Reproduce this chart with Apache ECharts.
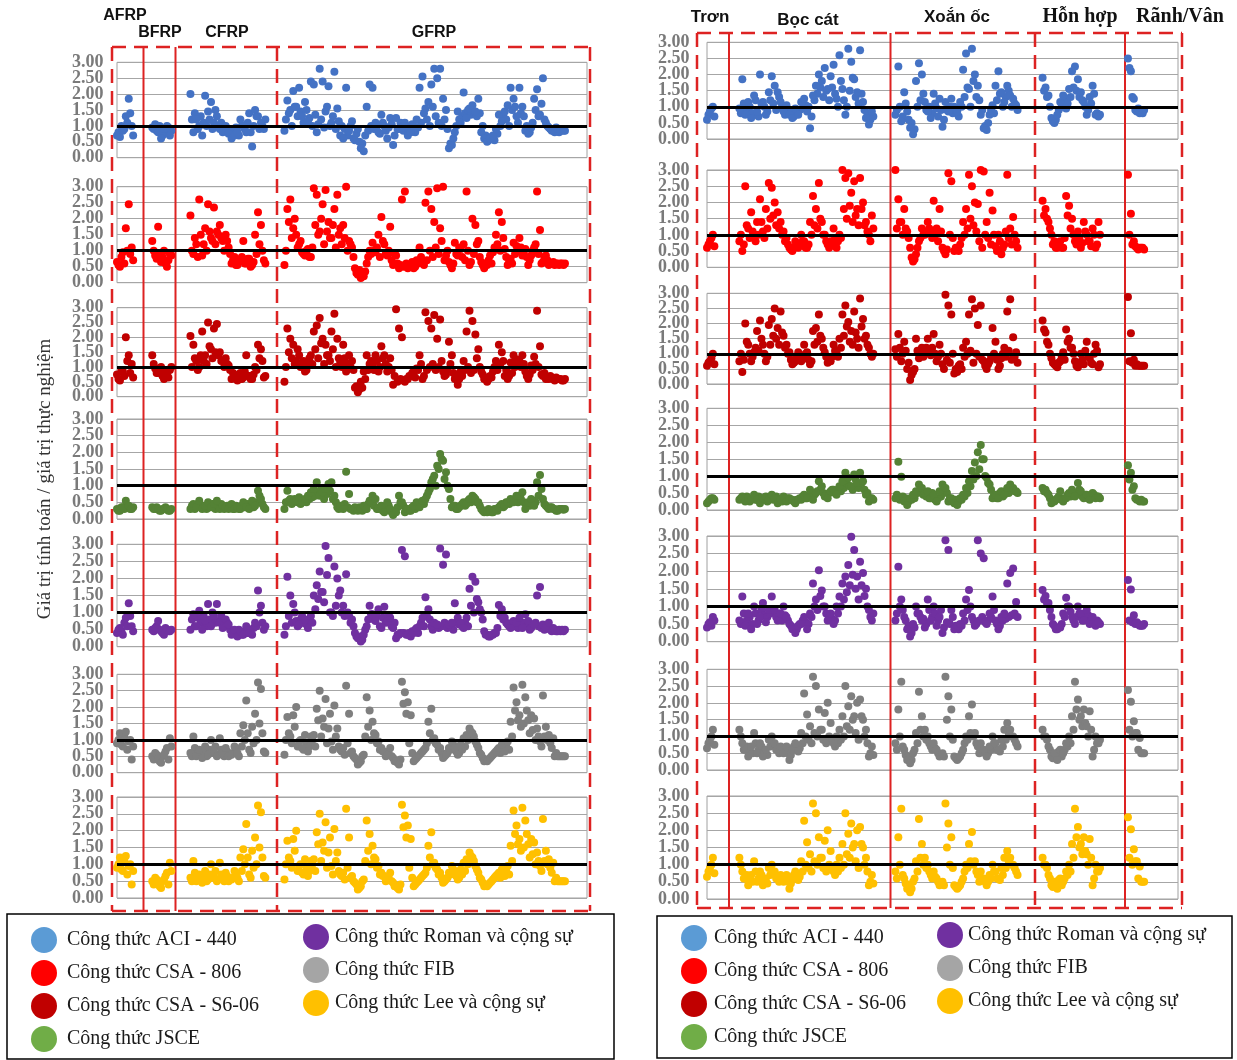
<!DOCTYPE html>
<html><head><meta charset="utf-8">
<script src="https://cdn.jsdelivr.net/npm/echarts@6/dist/echarts.min.js"></script>
<style>html,body{margin:0;padding:0;background:#fff}#c{width:1237px;height:1060px}</style>
</head><body><div id="c"></div>
<script>
// ---------- DATA ----------
const formulas = ['Công thức ACI - 440','Công thức CSA - 806','Công thức CSA - S6-06','Công thức JSCE','Công thức Roman và cộng sự','Công thức FIB','Công thức Lee và cộng sự'];
const yTicks = [0, 0.5, 1, 1.5, 2, 2.5, 3];
const refValue = 1;
const sampleRange = [0, 160];
const leftGroups = ['AFRP','BFRP','CFRP','GFRP'];
const leftStart = [0, 12, 25, 57];
const rightGroups = ['Trơn','Bọc cát','Xoắn ốc','Hỗn hợp','Rãnh/Vân'];
const rightStart = [0, 11, 64, 114, 143];

// Left panel (by FRP type): [AFRP, BFRP, CFRP, GFRP]; *_B = second specimen row read at half-step
const L_ACI = [
 [0.7,0.65,0.85,1.3,1.85,1.0],
 [0.95,1.05,0.8,0.6,0.9,1.0,0.7],
 [2.0,0.8,1.2,1.0,0.7,1.95,1.45,1.75,1.1,1.3,0.9,0.8,1.0,0.75,0.6,0.7,0.8,1.2,1.0,0.8,1.4,0.35,1.5,1.3,1.1,0.9],
 [0.85,1.8,1.5,2.1,1.6,2.2,1.3,1.75,1.15,2.4, 2.3,0.8,2.8,2.4,1.45,2.25,1.1,2.7,1.55,0.7, 0.6,2.2,0.85,1.15,0.55,0.9,0.3,0.2,1.6,2.3,
  2.2,1.1,0.8,1.35,1.0,0.6,1.25,0.4,1.25,0.9, 0.95,1.1,0.7,0.8,1.0,1.2,2.2,2.55,1.55,1.75, 2.3,2.8,2.5,2.8,1.85,1.5,0.3,0.4,0.8,1.45,
  1.1,2.05,1.25,1.55,1.65,1.45,1.85,0.8,0.6,0.5, 0.6,0.7,0.9,1.35,1.15,1.45,1.65,2.2,1.85,1.3, 2.2,1.6,0.85,0.75,0.95,1.85,2.15,1.35,2.5,1.1,0.95,0.85,0.8,0.9,0.85,0.85]
];
const L_ACI_B = [
 [0.8,1.0,0.9,1.1,1.4,0.7],
 [0.9,0.85,1.0,0.7,0.8,0.95,0.85],
 [1.2,1.4,0.9,1.3,1.1,1.0,1.2,0.9,1.5,1.0,1.1,0.95,0.85,0.9,0.85,0.95,0.7,1.0,0.9,1.1,0.8,1.0,1.3,0.9,1.0,1.2],
 [1.2,1.4,1.0,1.6,1.3,1.45,1.1,1.5,1.25,1.0, 1.35,1.05,1.2,0.95,1.6,1.0,1.3,0.9,1.15,1.0, 0.9,0.7,1.0,0.6,0.75,0.5,0.45,0.7,0.85,1.0,
  0.9,1.0,0.75,1.1,0.85,0.95,1.05,0.7,0.9,1.1, 0.85,1.0,0.9,1.05,0.8,0.95,1.1,1.4,1.2,1.0, 1.6,1.3,1.1,1.0,1.2,0.9,0.45,0.6,1.0,1.2,
  1.3,1.4,1.5,1.35,1.45,1.3,1.4,1.0,0.7,0.55, 0.65,0.55,0.75,1.0,1.3,1.2,1.0,1.5,1.6,1.1, 1.4,1.3,1.0,0.8,1.1,1.5,1.3,1.7,1.2,1.0,0.9,0.85,0.95,0.8,0.9,0.85]
];
const L_806 = [
 [0.65,0.5,0.95,1.7,2.45,1.1],
 [1.3,0.85,1.75,0.65,1.0,0.5,0.9],
 [2.1,0.9,1.2,2.6,0.85,1.7,2.45,1.4,2.35,1.6,1.8,1.3,1.5,1.1,0.6,0.8,0.55,0.7,1.3,0.6,0.75,0.55,1.5,2.2,1.8,0.7],
 [0.55,2.3,2.6,1.7,1.5,1.2,0.95,0.85,1.05,0.8, 2.95,2.75,1.6,2.45,2.9,1.9,1.4,2.3,2.75,1.7, 1.8,3.0,1.3,1.1,0.45,0.25,0.15,0.2,0.6,1.0,
  1.25,0.95,1.5,2.05,1.2,0.85,1.75,0.55,0.85,0.45, 2.6,2.85,0.45,0.55,0.45,0.7,1.1,0.65,2.5,2.85, 2.3,1.9,2.95,1.7,3.0,0.85,0.65,0.45,1.25,0.85,
  1.05,1.2,2.85,0.55,2.0,1.8,1.3,0.65,0.45,0.55, 0.85,0.95,1.5,2.2,1.9,1.05,0.55,0.75,1.25,1.15, 1.4,0.85,1.05,0.55,0.85,1.1,2.85,1.65,0.65,0.85,0.55,0.6,0.55,0.6,0.6,0.55]
];
const L_806_B = [
 [0.55,0.8,0.6,1.0,0.9,0.7],
 [1.0,0.75,0.9,0.8,0.6,0.7,0.85],
 [1.0,1.4,0.8,1.5,1.2,1.0,1.6,1.3,1.2,1.5,1.4,1.0,1.3,0.9,0.7,0.55,0.65,0.8,0.6,0.75,0.5,0.65,0.9,1.2,1.0,0.6],
 [1.0,1.9,1.4,2.0,1.1,1.3,0.9,1.0,0.8,1.1, 1.8,1.5,2.0,1.2,1.6,1.4,1.8,1.1,1.5,1.2, 1.4,1.0,1.2,0.8,0.3,0.4,0.2,0.35,0.8,0.9,
  1.0,1.1,0.8,1.3,0.9,1.0,0.7,0.9,0.6,0.55, 0.5,0.6,0.55,0.65,0.5,0.6,0.8,0.55,0.7,1.0, 0.8,1.1,0.9,1.3,0.7,1.0,0.55,0.6,0.9,1.1,
  0.8,0.7,1.0,0.65,0.9,1.2,0.8,0.55,0.6,0.7, 0.6,1.1,1.2,1.0,1.4,0.8,0.65,0.6,0.9,1.0, 1.1,1.0,0.8,0.7,1.0,1.2,0.9,0.6,0.8,0.7,0.6,0.65,0.6,0.55,0.6,0.6]
];
const L_S606 = [
 [0.75,0.55,0.85,2.0,1.4,1.1],
 [1.4,0.95,0.8,1.0,0.6,0.75,0.9],
 [2.05,1.75,1.2,1.0,2.2,1.4,2.5,1.6,2.3,2.45,1.5,1.2,1.3,1.05,0.6,0.7,0.55,0.8,0.65,1.4,0.7,0.6,1.0,1.75,1.6,0.65],
 [0.5,2.3,1.95,1.75,1.2,1.4,1.05,0.85,1.15,1.4, 2.2,2.4,2.65,1.95,1.75,1.4,2.2,2.8,1.95,1.15, 1.75,0.85,1.4,1.2,0.3,0.15,0.5,0.85,1.4,1.1,
  1.05,1.4,0.85,1.7,1.4,0.85,1.3,0.4,2.95,2.3, 2.0,0.5,0.6,0.7,0.85,0.95,1.4,0.6,2.85,2.55, 2.3,2.75,1.95,2.6,0.85,0.75,1.85,1.4,0.6,0.4,
  0.85,1.2,2.2,2.9,2.55,2.1,1.6,0.85,0.6,0.5, 0.7,0.85,1.2,1.75,1.5,0.7,0.6,1.15,1.4,1.25, 1.2,1.4,0.85,0.6,1.05,1.35,2.9,1.7,0.7,0.6,0.6,0.65,0.55,0.6,0.6,0.55]
];
const L_S606_B = [
 [0.6,0.9,0.7,1.2,0.8,0.65],
 [1.1,0.8,0.95,0.7,0.85,0.65,1.0],
 [1.0,1.3,0.9,1.4,1.2,1.1,1.7,1.3,1.5,1.4,1.2,1.0,1.1,0.9,0.8,0.65,0.75,0.6,0.85,0.7,0.6,0.75,0.9,1.3,1.2,0.7],
 [1.0,1.5,1.3,1.1,1.6,1.0,1.2,0.9,1.3,1.1, 1.6,1.3,1.8,1.1,1.4,1.2,1.6,1.0,1.3,1.0, 1.3,1.1,1.0,0.9,0.35,0.25,0.3,0.6,0.9,1.2,
  0.9,1.2,1.0,1.3,1.1,1.0,0.9,0.7,0.5,0.6, 0.55,0.6,0.7,0.8,0.65,0.9,1.1,0.7,0.9,1.0, 1.1,0.9,1.0,1.2,0.7,0.9,1.1,0.8,0.75,0.6,
  0.7,0.9,1.0,0.8,0.9,1.3,1.0,0.75,0.65,0.6, 0.65,1.0,0.9,1.1,1.2,0.9,0.7,0.8,1.0,1.1, 1.0,1.1,0.7,0.75,0.9,1.1,1.0,0.75,0.8,0.65,0.7,0.6,0.65,0.6,0.55,0.6]
];
const L_JSCE = [
 [0.3,0.25,0.35,0.55,0.4,0.3],
 [0.35,0.3,0.3,0.25,0.3,0.3,0.25],
 [0.3,0.45,0.35,0.55,0.3,0.4,0.5,0.35,0.45,0.55,0.3,0.4,0.35,0.3,0.45,0.3,0.35,0.3,0.5,0.35,0.3,0.55,0.4,0.85,0.6,0.35],
 [0.3,0.85,0.6,0.5,0.55,0.65,0.5,0.6,0.7,0.8, 0.9,1.1,0.7,0.8,0.9,1.05,1.1,0.7,0.35,0.4, 0.3,1.42,0.75,0.3,0.35,0.25,0.3,0.4,0.3,0.55,
  0.7,0.6,0.3,0.4,0.2,0.5,0.3,0.12,0.2,0.7, 0.5,0.2,0.3,0.25,0.4,0.5,0.35,0.55,0.6,0.8, 1.1,1.3,1.6,1.95,1.75,1.4,0.9,0.35,0.4,0.3,
  0.4,0.5,0.45,0.6,0.7,0.6,0.5,0.3,0.2,0.2, 0.25,0.2,0.3,0.35,0.45,0.4,0.5,0.6,0.5,0.7, 0.7,0.8,0.3,0.5,0.6,0.4,1.1,1.32,0.6,0.4,0.3,0.35,0.3,0.25,0.3,0.28]
];
const L_JSCE_B = [
 [0.25,0.35,0.3,0.4,0.3,0.35],
 [0.3,0.35,0.25,0.3,0.35,0.25,0.3],
 [0.4,0.3,0.45,0.35,0.4,0.3,0.35,0.45,0.3,0.4,0.45,0.3,0.4,0.35,0.3,0.4,0.3,0.4,0.35,0.45,0.4,0.35,0.5,0.7,0.45,0.3],
 [0.5,0.55,0.45,0.6,0.5,0.45,0.55,0.5,0.6,0.65, 0.7,0.8,0.9,0.6,0.75,0.85,0.6,0.5,0.3,0.35, 0.45,0.35,0.3,0.25,0.3,0.35,0.25,0.3,0.45,0.5,
  0.4,0.3,0.35,0.25,0.3,0.4,0.2,0.25,0.35,0.5, 0.4,0.3,0.25,0.35,0.3,0.45,0.5,0.45,0.7,0.9, 1.2,1.0,1.5,1.8,1.2,1.0,0.6,0.4,0.3,0.35,
  0.45,0.4,0.55,0.5,0.65,0.5,0.4,0.25,0.25,0.3, 0.2,0.3,0.25,0.4,0.35,0.5,0.45,0.55,0.6,0.5, 0.6,0.5,0.45,0.4,0.55,0.5,0.7,0.9,0.45,0.35,0.35,0.3,0.25,0.3,0.3,0.3]
];
const L_ROMAN = [
 [0.4,0.55,0.35,0.85,1.27,0.6],
 [0.5,0.55,0.75,0.45,0.35,0.5,0.45],
 [0.5,0.95,0.6,1.05,0.5,0.75,1.25,0.6,0.9,1.25,0.7,0.55,0.8,0.65,0.35,0.5,0.3,0.45,0.35,0.6,0.4,0.35,0.7,1.65,1.2,0.5],
 [0.35,2.05,1.5,1.25,0.75,0.65,0.9,0.8,0.55,0.9, 1.5,1.8,2.2,1.6,2.95,2.6,1.0,2.35,2.0,1.65, 1.2,2.12,0.9,0.8,0.4,0.25,0.15,0.35,0.6,1.2,
  0.95,0.75,1.1,0.55,1.17,0.75,0.85,0.55,0.25,0.35, 2.83,2.65,0.35,0.3,0.4,0.55,0.6,0.85,1.45,1.1, 0.6,0.7,0.65,2.88,2.4,2.7,0.65,0.7,1.27,0.85,
  0.7,0.55,0.85,1.7,2.05,1.9,1.3,1.0,0.45,0.35, 0.3,0.35,0.4,1.22,1.1,0.85,0.65,0.55,0.75,0.7, 0.85,0.55,0.95,0.75,0.55,0.65,1.5,1.75,0.65,0.55,0.7,0.45,0.5,0.45,0.45,0.45]
];
const L_ROMAN_B = [
 [0.5,0.45,0.7,0.6,0.9,0.45],
 [0.45,0.6,0.5,0.4,0.55,0.45,0.5],
 [0.8,0.6,0.85,0.7,0.9,0.6,0.8,1.0,0.7,0.75,0.9,0.6,0.7,0.5,0.45,0.4,0.5,0.35,0.45,0.4,0.5,0.55,0.6,1.0,0.7,0.6],
 [0.6,0.9,0.7,1.0,0.6,0.8,0.7,0.65,0.8,0.7, 1.1,1.4,1.6,1.3,2.1,1.0,0.9,1.2,1.5,1.0, 0.9,1.0,0.7,0.6,0.3,0.3,0.2,0.5,0.8,0.95,
  0.8,0.9,0.6,0.85,0.7,0.9,0.6,0.7,0.35,0.4, 0.4,0.35,0.4,0.45,0.5,0.4,0.7,0.6,0.9,0.8, 0.5,0.65,0.55,0.6,0.7,0.55,0.6,0.5,0.7,0.65,
  0.6,0.7,0.6,1.2,1.0,1.4,1.1,0.8,0.35,0.3, 0.35,0.4,0.55,0.9,0.8,0.7,0.6,0.7,0.6,0.55, 0.65,0.7,0.6,0.5,0.65,0.7,0.6,0.55,0.5,0.6,0.5,0.55,0.45,0.5,0.5,0.5]
];
const L_FIB = [
 [0.9,1.2,0.8,1.25,0.95,0.4],
 [0.5,0.6,0.45,0.3,0.55,0.75,1.05],
 [0.6,1.1,0.5,0.7,0.45,0.8,0.55,1.0,0.65,0.5,1.05,0.6,0.75,0.5,0.55,0.8,0.6,1.2,1.45,2.2,0.7,1.4,1.8,2.75,2.55,0.65],
 [0.55,1.7,1.1,1.75,2.0,0.95,0.75,1.15,0.65,1.1, 1.15,1.95,2.5,1.65,2.25,1.35,0.95,2.05,1.35,0.7, 0.75,2.65,1.8,0.65,0.45,0.25,0.35,0.55,2.3,1.9,
  1.55,1.15,0.95,0.75,0.65,0.55,0.75,0.45,0.35,0.25, 2.77,2.45,2.15,1.75,0.35,0.45,0.55,0.65,0.75,1.55, 1.95,1.05,0.85,0.75,0.45,0.55,0.75,0.95,0.75,0.55,
  0.85,1.05,1.15,1.35,1.2,0.95,0.75,0.55,0.35,0.35, 0.45,0.55,0.65,0.75,0.85,0.65,0.95,1.55,2.6,2.15, 1.75,2.68,2.3,1.6,1.75,1.65,1.35,0.95,2.35,1.4,1.15,0.75,0.5,0.5,0.5,0.5]
];
const L_FIB_B = [
 [1.0,0.85,1.1,0.7,1.0,0.8],
 [0.4,0.55,0.35,0.5,0.65,0.4,0.8],
 [0.5,0.75,0.6,0.55,0.65,0.5,0.7,0.6,0.8,0.55,0.7,0.5,0.65,0.55,0.6,0.7,0.5,0.8,1.0,1.2,0.6,0.9,1.0,1.5,1.2,0.6],
 [1.0,1.2,0.9,1.4,0.8,1.0,0.7,0.9,0.8,1.0, 0.8,1.6,1.1,1.4,0.9,1.8,0.7,1.1,0.8,0.65, 0.55,0.9,0.6,0.5,0.4,0.3,0.5,1.1,1.4,1.0,
  1.2,0.9,0.7,0.65,0.5,0.6,0.5,0.35,0.3,0.4, 2.1,1.8,0.9,0.6,0.4,0.5,0.6,0.7,0.9,1.2, 1.0,0.9,0.7,0.6,0.5,0.6,0.7,0.85,0.65,0.6,
  0.7,0.8,1.0,1.25,1.1,0.85,0.6,0.45,0.4,0.4, 0.5,0.6,0.7,0.6,0.75,0.8,0.7,1.1,1.9,1.6, 1.4,1.5,1.9,1.2,1.3,1.0,1.1,0.8,1.1,1.0,0.9,1.05,0.6,0.5,0.5,0.5]
];
const L_LEE = [
 [0.9,1.2,0.8,1.25,0.95,0.4],
 [0.5,0.6,0.45,0.3,0.55,0.75,1.05],
 [0.6,1.1,0.5,0.7,0.45,0.8,0.55,1.0,0.65,0.5,1.05,0.6,0.75,0.5,0.55,0.8,0.6,1.2,1.45,2.2,0.7,1.4,1.8,2.75,2.55,0.65],
 [0.55,1.7,1.1,1.75,2.0,0.95,0.75,1.15,0.65,1.1, 1.15,1.95,2.5,1.65,2.25,1.35,0.95,2.05,1.35,0.7, 0.75,2.65,1.8,0.65,0.45,0.25,0.35,0.55,2.3,1.9,
  1.55,1.15,0.95,0.75,0.65,0.55,0.75,0.45,0.35,0.25, 2.77,2.45,2.15,1.75,0.35,0.45,0.55,0.65,0.75,1.55, 1.95,1.05,0.85,0.75,0.45,0.55,0.75,0.95,0.75,0.55,
  0.85,1.05,1.15,1.35,1.2,0.95,0.75,0.55,0.35,0.35, 0.45,0.55,0.65,0.75,0.85,0.65,0.95,1.55,2.6,2.15, 1.75,2.68,2.3,1.6,1.75,1.65,1.35,0.95,2.35,1.4,1.15,0.75,0.5,0.5,0.5,0.5]
];
const L_LEE_B = [
 [1.0,0.85,1.1,0.7,1.0,0.8],
 [0.4,0.55,0.35,0.5,0.65,0.4,0.8],
 [0.5,0.75,0.6,0.55,0.65,0.5,0.7,0.6,0.8,0.55,0.7,0.5,0.65,0.55,0.6,0.7,0.5,0.8,1.0,1.2,0.6,0.9,1.0,1.5,1.2,0.6],
 [1.0,1.2,0.9,1.4,0.8,1.0,0.7,0.9,0.8,1.0, 0.8,1.6,1.1,1.4,0.9,1.8,0.7,1.1,0.8,0.65, 0.55,0.9,0.6,0.5,0.4,0.3,0.5,1.1,1.4,1.0,
  1.2,0.9,0.7,0.65,0.5,0.6,0.5,0.35,0.3,0.4, 2.1,1.8,0.9,0.6,0.4,0.5,0.6,0.7,0.9,1.2, 1.0,0.9,0.7,0.6,0.5,0.6,0.7,0.85,0.65,0.6,
  0.7,0.8,1.0,1.25,1.1,0.85,0.6,0.45,0.4,0.4, 0.5,0.6,0.7,0.6,0.75,0.8,0.7,1.1,1.9,1.6, 1.4,1.5,1.9,1.2,1.3,1.0,1.1,0.8,1.1,1.0,0.9,1.05,0.6,0.5,0.5,0.5]
];

// Right panel (by surface type): [Trơn, Bọc cát, Xoắn ốc, Hỗn hợp, Rãnh/Vân]
const R_ACI = [
 [0.6,0.85,1.0],
 [0.95,1.85,0.75,1.15,0.65,1.35,0.85,2.0,1.15,0.75,1.45, 1.95,1.65,1.45,1.15,0.85,1.05,0.75,0.65,0.95,0.75, 1.15,1.25,0.85,0.33,1.35,1.65,2.0,1.8,2.2,1.55,
  1.95,2.3,1.25,2.6,1.55,0.75,2.8,2.4,1.85,1.45, 2.75,1.15,0.65,0.45,0.85],
 [0.75,2.25,0.55,1.45,0.85,0.35,0.15,1.8,2.35,2.0,1.15, 0.85,0.65,1.4,0.95,1.25,0.38,1.15,0.85,1.25,1.0, 0.85,1.15,2.15,2.65,1.55,2.8,2.0,1.65,0.75,0.33,
  0.28,0.75,1.05,1.65,2.1,1.45,1.15,1.65,1.35,1.25,1.05],
 [1.9,1.6,1.35,0.65,0.5,0.75,1.15,1.35,0.95,1.55,2.1,2.25,1.85,1.45,1.15,0.75,1.3,1.65,0.75,0.7],
 [2.5,2.1,1.25,0.85,0.8,0.8]
];
const R_ACI_B = [
 [0.75,0.95,0.7],
 [0.8,1.1,0.9,1.0,0.8,1.2,0.7,1.1,1.0,0.85,1.2, 1.1,0.9,1.3,1.0,0.75,0.9,0.85,0.7,0.8,0.9, 0.95,1.05,1.0,0.7,1.2,1.4,1.6,1.3,1.5,1.2,
  1.6,1.4,1.0,1.8,1.2,1.0,1.5,1.9,1.3,1.1, 1.4,0.9,0.8,0.6,0.7],
 [0.9,1.0,0.7,1.1,0.6,0.5,0.3,1.0,1.2,1.4,0.9, 1.0,0.8,1.1,0.7,0.9,0.6,0.9,1.0,0.8,0.9, 0.7,1.0,1.3,1.6,1.0,1.8,1.3,1.2,0.9,0.4,
  0.5,0.9,0.8,1.2,1.4,1.0,1.3,1.5,1.0,1.1,0.9],
 [1.5,1.3,1.0,0.55,0.6,0.9,1.0,1.2,1.1,1.3,1.6,1.5,1.3,1.2,1.0,0.9,1.1,1.4,0.8,0.75],
 [2.2,1.3,0.9,0.95,0.85,0.9]
];
const R_806 = [
 [0.6,0.8,1.0],
 [0.8,0.5,2.5,1.2,1.7,1.0,1.4,2.1,1.1,1.8,2.6, 2.45,2.0,1.7,1.4,1.1,0.9,0.6,0.5,0.8,0.6, 1.0,0.8,0.6,1.4,2.2,1.8,2.6,1.4,1.0,0.7,
  0.8,1.2,0.6,1.0,3.0,2.75,2.9,2.3,2.65,1.8, 2.75,2.0,1.4,1.0,1.6],
 [3.0,2.1,1.4,1.8,1.1,0.6,0.18,0.4,0.8,1.2,1.0, 1.4,1.1,2.05,1.2,1.8,0.6,0.4,2.9,2.65,0.5, 0.6,0.7,1.4,1.8,2.85,2.5,2.0,1.95,3.0,2.95,
  1.4,2.3,1.75,0.65,1.0,0.4,0.7,2.85,1.2,1.55,0.8],
 [2.05,1.8,1.4,1.0,0.8,0.6,0.8,0.6,2.2,1.9,1.5,0.8,1.1,0.6,1.4,1.0,0.8,1.2,0.6,1.4],
 [2.85,1.65,0.8,0.6,0.6,0.6]
];
const R_806_B = [
 [0.7,0.9,0.65],
 [1.0,0.7,1.3,0.9,1.1,0.8,1.0,1.4,0.9,1.2,1.5, 1.6,1.3,1.2,1.0,0.8,0.7,0.55,0.6,0.65,0.7, 0.8,0.6,0.7,1.0,1.3,1.2,1.5,1.0,0.8,0.6,
  0.7,0.9,0.8,0.9,1.8,1.5,1.9,1.4,1.6,1.3, 1.8,1.3,1.1,0.8,1.2],
 [1.2,1.4,1.0,1.2,0.9,0.3,0.25,0.6,0.9,1.0,1.1, 1.2,0.9,1.0,0.8,1.1,0.5,0.55,1.0,0.9,0.6, 0.5,0.9,1.0,1.2,1.5,1.3,1.1,0.8,0.6,1.0,
  0.9,0.7,1.0,0.5,0.8,0.6,1.1,0.9,0.7,1.0,0.6],
 [1.6,1.5,1.2,0.7,0.6,0.7,0.6,0.9,1.6,1.2,1.0,0.7,0.9,0.75,1.1,0.8,0.65,1.0,0.7,1.0],
 [1.0,0.7,0.65,0.55,0.6,0.55]
];
const R_S606 = [
 [0.6,0.75,1.0],
 [0.75,0.4,2.0,1.3,0.75,1.05,1.75,2.1,1.3,0.75,1.95, 2.15,2.5,1.85,2.4,1.6,1.3,1.05,0.65,0.75,1.05, 0.75,1.3,1.05,0.65,1.75,1.85,2.3,1.5,1.05,0.7,
  0.75,1.3,1.05,1.5,2.3,2.6,2.05,1.75,2.4,1.5, 2.83,2.15,1.6,1.2,0.9],
 [1.15,1.65,0.75,1.4,0.5,0.13,0.4,1.5,0.85,1.2,1.0, 1.5,0.95,1.65,0.75,1.3,0.65,2.95,2.6,2.3,0.35, 0.4,0.65,1.2,1.4,2.3,2.8,2.5,1.95,2.6,0.75,
  0.5,0.75,1.85,1.4,0.5,0.85,1.2,2.4,2.8,1.55,1.05],
 [2.1,1.7,1.3,0.85,0.65,0.55,0.75,1.05,1.8,1.5,1.2,0.75,0.55,1.0,0.65,1.4,0.85,0.65,1.3,0.55],
 [2.88,1.68,0.8,0.65,0.6,0.6]
];
const R_S606_B = [
 [0.7,0.85,0.65],
 [1.0,0.8,1.4,1.0,0.9,1.2,1.1,1.5,1.0,0.9,1.3, 1.6,1.5,1.3,1.7,1.2,1.0,0.8,0.7,0.9,0.8, 0.9,1.0,0.8,0.75,1.3,1.4,1.6,1.2,0.9,0.8,
  0.9,1.1,0.9,1.2,1.6,1.9,1.4,1.3,1.7,1.2, 1.9,1.5,1.3,1.0,1.0],
 [0.9,1.2,1.0,1.1,0.7,0.3,0.5,1.1,1.0,0.9,1.2, 1.1,1.2,1.0,0.9,1.0,0.5,0.8,0.7,1.0,0.5, 0.6,0.5,0.9,1.0,1.1,0.7,1.0,0.9,0.8,0.6,
  0.65,0.9,1.0,0.8,0.6,1.0,0.9,1.1,0.8,0.9,0.7],
 [1.8,1.4,1.0,0.7,0.6,0.7,0.9,0.8,1.4,1.2,1.0,0.6,0.7,0.8,1.1,0.9,0.7,1.0,1.1,0.65],
 [0.75,0.7,0.6,0.6,0.6,0.6]
];
const R_JSCE = [
 [0.2,0.3,0.35],
 [0.3,0.4,0.25,0.35,0.3,0.45,0.3,0.2,0.35,0.4,0.3, 0.45,0.35,0.2,0.3,0.4,0.25,0.35,0.3,0.2,0.3, 0.3,0.45,0.35,0.6,0.3,0.5,0.85,0.7,0.4,0.35,
  0.55,0.6,0.45,0.7,0.85,1.1,0.95,0.7,1.05,0.8, 1.1,0.85,0.45,0.25,0.35],
 [0.35,1.42,0.98,0.25,0.15,0.35,0.45,0.55,0.75,0.65,0.5, 0.55,0.35,0.45,0.25,0.55,0.75,0.65,0.25,0.35,0.2, 0.15,0.35,0.45,0.65,0.85,1.15,1.4,1.7,1.92,1.5,
  0.95,0.75,0.35,0.45,0.35,0.55,0.45,0.65,0.75,0.65,0.55],
 [0.65,0.6,0.45,0.2,0.25,0.35,0.55,0.25,0.35,0.5,0.6,0.4,0.8,0.55,0.35,0.45,0.3,0.5,0.35,0.4],
 [1.32,1.1,0.7,0.3,0.25,0.25]
];
const R_JSCE_B = [
 [0.25,0.35,0.3],
 [0.35,0.3,0.4,0.25,0.35,0.3,0.4,0.35,0.3,0.25,0.35, 0.3,0.4,0.3,0.25,0.3,0.35,0.3,0.25,0.3,0.35, 0.4,0.35,0.4,0.5,0.45,0.55,0.6,0.5,0.45,0.5,
  0.6,0.5,0.6,0.55,0.65,0.8,0.7,0.6,0.9,0.65, 0.8,0.6,0.5,0.35,0.3],
 [0.45,0.3,0.4,0.35,0.25,0.3,0.35,0.5,0.6,0.45,0.4, 0.35,0.5,0.3,0.35,0.4,0.6,0.5,0.35,0.25,0.3, 0.25,0.3,0.4,0.5,0.7,0.9,1.0,1.2,1.5,1.0,
  0.8,0.6,0.45,0.35,0.5,0.4,0.55,0.5,0.6,0.55,0.5],
 [0.55,0.5,0.35,0.25,0.3,0.4,0.3,0.35,0.45,0.4,0.5,0.45,0.6,0.4,0.45,0.35,0.4,0.45,0.4,0.35],
 [0.9,0.6,0.35,0.3,0.3,0.25]
];
const R_ROMAN = [
 [0.4,0.55,0.7],
 [0.6,1.28,0.45,0.8,0.35,1.0,0.5,0.7,1.1,0.55,0.9, 1.28,0.9,0.6,0.8,1.0,0.7,0.5,0.35,0.25,0.45, 0.5,0.7,0.35,0.8,1.65,1.2,2.03,1.45,1.0,0.6,
  0.8,0.5,1.0,1.28,1.65,1.85,2.18,2.98,2.6,1.85, 2.27,1.95,1.5,0.9,0.6],
 [0.6,2.13,1.2,0.7,0.35,0.15,0.5,1.0,0.8,0.6,0.4, 1.2,0.6,1.0,0.45,0.7,0.25,2.88,2.6,0.9,0.35, 0.45,0.5,0.8,1.2,1.47,0.7,0.45,2.88,2.5,2.37,
  0.5,0.8,1.28,0.6,0.35,0.7,0.8,1.65,1.95,2.08,1.13],
 [1.47,1.3,1.1,0.7,0.45,0.35,0.4,0.8,1.25,1.0,0.7,0.5,1.0,0.8,0.6,0.9,0.5,0.7,0.45,0.55],
 [1.75,1.48,0.75,0.55,0.45,0.45]
];
const R_ROMAN_B = [
 [0.5,0.45,0.6],
 [0.5,0.8,0.6,0.7,0.5,0.8,0.6,0.9,0.75,0.7,0.8, 0.9,0.7,0.8,0.6,0.75,0.6,0.45,0.4,0.35,0.5, 0.6,0.55,0.5,0.7,1.0,0.9,1.3,1.0,0.8,0.7,
  0.65,0.6,0.8,1.0,1.2,1.4,1.6,1.9,1.5,1.2, 1.6,1.3,1.0,0.7,0.8],
 [0.8,1.0,0.9,0.6,0.45,0.25,0.4,0.8,0.7,0.65,0.5, 0.9,0.7,0.8,0.6,0.9,0.4,0.55,0.5,0.7,0.45, 0.35,0.45,0.6,0.9,1.0,0.6,0.5,0.6,0.7,0.55,
  0.6,0.7,0.9,0.5,0.45,0.6,0.65,0.7,0.75,0.8,0.7],
 [1.2,1.1,0.9,0.5,0.35,0.4,0.5,0.7,1.0,0.85,0.6,0.7,0.8,0.6,0.7,0.75,0.6,0.55,0.6,0.5],
 [0.6,0.55,0.5,0.5,0.45,0.5]
];
const R_FIB = [
 [0.65,0.9,1.2],
 [1.2,0.8,0.6,0.4,0.7,1.1,0.5,0.8,0.4,0.6,0.9, 1.0,0.8,0.6,0.7,0.5,0.7,0.3,0.6,0.8,0.55, 1.1,2.28,1.65,1.3,2.78,2.5,1.8,1.2,1.7,2.0,
  1.4,0.8,1.0,1.2,1.6,2.5,1.9,2.2,1.6,2.0, 2.1,1.5,1.2,0.4,0.7],
 [0.8,1.8,2.63,0.6,0.3,0.2,0.5,1.1,2.33,1.6,1.2, 1.0,0.7,0.8,0.6,0.4,0.5,2.78,2.2,1.8,0.4, 0.3,0.4,0.6,1.0,1.6,1.95,1.1,0.7,0.8,0.6,
  0.4,0.7,1.0,0.8,0.6,0.9,1.2,1.4,1.2,1.0,0.8],
 [1.2,1.0,0.7,0.4,0.5,0.3,0.6,0.5,0.8,1.0,1.6,2.63,2.1,1.6,1.8,1.3,1.75,0.4,1.0,0.8],
 [2.38,2.03,1.45,1.1,0.95,0.5]
];
const R_FIB_B = [
 [0.8,1.0,0.75],
 [1.0,0.6,0.7,0.55,0.5,0.8,0.6,0.7,0.55,0.45,0.7, 0.8,0.6,0.5,0.55,0.65,0.5,0.45,0.7,0.6,0.65, 0.8,1.0,0.9,0.8,1.1,1.0,1.2,0.9,0.8,1.0,
  0.9,0.7,0.8,0.9,1.0,1.3,1.2,1.5,1.1,0.9, 1.6,1.0,0.8,0.5,0.45],
 [0.6,1.0,0.7,0.45,0.4,0.3,0.6,0.8,1.2,1.0,0.9, 0.8,0.6,0.65,0.5,0.45,0.4,1.5,1.0,0.9,0.35, 0.35,0.5,0.8,0.9,1.1,1.0,0.8,0.5,0.6,0.5,
  0.5,0.6,0.8,0.6,0.55,0.7,0.9,1.1,1.0,0.9,0.7],
 [1.0,0.9,0.6,0.35,0.4,0.55,0.4,0.6,0.7,0.8,1.2,1.8,1.5,1.3,1.4,1.0,1.2,0.6,0.8,0.9],
 [1.2,1.0,1.1,0.6,0.5,0.5]
];
const R_LEE = [
 [0.65,0.9,1.2],
 [1.2,0.8,0.6,0.4,0.7,1.1,0.5,0.8,0.4,0.6,0.9, 1.0,0.8,0.6,0.7,0.5,0.7,0.3,0.6,0.8,0.55, 1.1,2.28,1.65,1.3,2.78,2.5,1.8,1.2,1.7,2.0,
  1.4,0.8,1.0,1.2,1.6,2.5,1.9,2.2,1.6,2.0, 2.1,1.5,1.2,0.4,0.7],
 [0.8,1.8,2.63,0.6,0.3,0.2,0.5,1.1,2.33,1.6,1.2, 1.0,0.7,0.8,0.6,0.4,0.5,2.78,2.2,1.8,0.4, 0.3,0.4,0.6,1.0,1.6,1.95,1.1,0.7,0.8,0.6,
  0.4,0.7,1.0,0.8,0.6,0.9,1.2,1.4,1.2,1.0,0.8],
 [1.2,1.0,0.7,0.4,0.5,0.3,0.6,0.5,0.8,1.0,1.6,2.63,2.1,1.6,1.8,1.3,1.75,0.4,1.0,0.8],
 [2.38,2.03,1.45,1.1,0.95,0.5]
];
const R_LEE_B = [
 [0.8,1.0,0.75],
 [1.0,0.6,0.7,0.55,0.5,0.8,0.6,0.7,0.55,0.45,0.7, 0.8,0.6,0.5,0.55,0.65,0.5,0.45,0.7,0.6,0.65, 0.8,1.0,0.9,0.8,1.1,1.0,1.2,0.9,0.8,1.0,
  0.9,0.7,0.8,0.9,1.0,1.3,1.2,1.5,1.1,0.9, 1.6,1.0,0.8,0.5,0.45],
 [0.6,1.0,0.7,0.45,0.4,0.3,0.6,0.8,1.2,1.0,0.9, 0.8,0.6,0.65,0.5,0.45,0.4,1.5,1.0,0.9,0.35, 0.35,0.5,0.8,0.9,1.1,1.0,0.8,0.5,0.6,0.5,
  0.5,0.6,0.8,0.6,0.55,0.7,0.9,1.1,1.0,0.9,0.7],
 [1.0,0.9,0.6,0.35,0.4,0.55,0.4,0.6,0.7,0.8,1.2,1.8,1.5,1.3,1.4,1.0,1.2,0.6,0.8,0.9],
 [1.2,1.0,1.1,0.6,0.5,0.5]
];

const leftData = [L_ACI, L_806, L_S606, L_JSCE, L_ROMAN, L_FIB, L_LEE];
const leftDataB = [L_ACI_B, L_806_B, L_S606_B, L_JSCE_B, L_ROMAN_B, L_FIB_B, L_LEE_B];
const rightData = [R_ACI, R_806, R_S606, R_JSCE, R_ROMAN, R_FIB, R_LEE];
const rightDataB = [R_ACI_B, R_806_B, R_S606_B, R_JSCE_B, R_ROMAN_B, R_FIB_B, R_LEE_B];

// ---------- STYLE / LAYOUT ----------
const seriesColors = ['#4472C4','#FF0000','#C00000','#548235','#7030A0','#7F7F7F','#FFC000'];
const legendColors = ['#5B9BD5','#FF0000','#C00000','#70AD47','#7030A0','#A5A5A5','#FFC000'];
const panels = [
  {data: leftData, dataB: leftDataB, starts: leftStart, left: 117, width: 470, margin: 13,
   tops: [62.3,186.7,307.7,419,544.3,674.3,797], bots: [157.7,282.7,396.7,519,646.7,772.7,898]},
  {data: rightData, dataB: rightDataB, starts: rightStart, left: 707, width: 471, margin: 17,
   tops: [42.3,170,293.3,408.3,536,669.3,796], bots: [139,267.3,384,510,641.7,770,899]}
];

function toPoints(groups, starts, off) {
  const pts = [];
  groups.forEach((g, gi) => g.forEach((v, i) => pts.push([starts[gi] + i + off, v])));
  return pts;
}

const grid = [], xAxis = [], yAxis = [], series = [];
panels.forEach((p) => {
  p.data.forEach((groups, k) => {
    const idx = grid.length;
    grid.push({left: p.left, width: p.width, top: p.tops[k], height: p.bots[k] - p.tops[k],
      show: true, borderColor: '#a0a0a0', borderWidth: 1, backgroundColor: 'transparent'});
    xAxis.push({gridIndex: idx, type: 'value', min: sampleRange[0], max: sampleRange[1], show: false});
    yAxis.push({gridIndex: idx, type: 'value', min: yTicks[0], max: yTicks[yTicks.length - 1],
      interval: yTicks[1] - yTicks[0],
      axisLine: {show: false}, axisTick: {show: false}, axisLabel: {show: false},
      splitLine: {show: true, lineStyle: {color: '#a6a6a6', width: 1}}});
    const pts = toPoints(p.dataB[k], p.starts, 0.5).concat(toPoints(groups, p.starts, 0));
    series.push({type: 'scatter', name: formulas[k], xAxisIndex: idx, yAxisIndex: idx,
      data: pts, symbolSize: 8, clip: false, silent: true,
      itemStyle: {color: seriesColors[k], opacity: 1},
      markLine: {silent: true, symbol: 'none', label: {show: false}, animation: false,
        lineStyle: {color: '#000', width: 3, type: 'solid'}, data: [{yAxis: refValue}]}});
    series.push({type: 'scatter', name: 'ticks', xAxisIndex: idx, yAxisIndex: idx,
      data: yTicks.map(v => [sampleRange[0], v]), symbolSize: 1, clip: false, silent: true,
      itemStyle: {color: 'rgba(0,0,0,0)'},
      label: {show: true, position: 'left', distance: p.margin, formatter: d => d.value[1].toFixed(2),
        fontFamily: 'Liberation Serif', fontWeight: 'bold', fontSize: 18, color: '#595959'},
      labelLayout: {hideOverlap: false}});
  });
});

const legendText = {fontFamily: 'Liberation Serif', fontSize: 20, color: '#1a1a1a'};
function legendBlock(names, colorsIdx, left, top, pad) {
  return {left, top, padding: 0, orient: 'vertical', icon: 'circle', itemWidth: 26, itemHeight: 26, itemGap: 7,
    height: 140, selectedMode: false, textStyle: Object.assign({padding: [0, 0, 0, pad]}, legendText),
    data: names.map((n, i) => ({name: n, itemStyle: {color: legendColors[colorsIdx[i]]}}))};
}
const legend = [
  legendBlock(formulas.slice(0, 4), [0,1,2,3], 31, 927, 5),
  legendBlock(formulas.slice(4), [4,5,6], 303, 924, 1),
  legendBlock(formulas.slice(0, 4), [0,1,2,3], 681, 925, 2),
  legendBlock(formulas.slice(4), [4,5,6], 937, 922, 0)
];

const RED = '#DD2222';
const dash = [14, 8];
function ln(x1, y1, x2, y2, dashed) {
  return {type: 'line', z: 1, silent: true, shape: {x1, y1, x2, y2},
    style: {stroke: RED, lineWidth: dashed ? 2.5 : 2, lineDash: dashed ? dash : null}};
}
function txt(text, x, y, font) {
  return {type: 'text', z: 10, silent: true, x, y,
    style: {text, font, fill: '#111', align: 'center', verticalAlign: 'middle'}};
}
const sansB = 'bold 16px "Liberation Sans"';
const sansB2 = 'bold 17px "Liberation Sans"';
const serifB = 'bold 20px "Liberation Serif"';
const graphic = [
  ln(112, 47, 590, 47, true), ln(112, 47, 112, 911, true), ln(590, 47, 590, 911, true), ln(112, 911, 590, 911, true),
  ln(143.5, 47, 143.5, 911, false), ln(175.5, 47, 175.5, 911, false), ln(277, 47, 277, 911, true),
  ln(697, 33, 1182, 33, true), ln(697, 33, 697, 908, true), ln(1182, 33, 1182, 908, true), ln(697, 908, 1182, 908, true),
  ln(729, 33, 729, 908, false), ln(890.5, 33, 890.5, 908, false), ln(1035, 33, 1035, 908, true), ln(1125, 33, 1125, 908, false),
  txt(leftGroups[0], 125, 16, sansB), txt(leftGroups[1], 160, 33, sansB), txt(leftGroups[2], 227, 33, sansB), txt(leftGroups[3], 434, 33, sansB),
  txt(rightGroups[0], 710, 17, sansB2), txt(rightGroups[1], 808, 20, sansB2), txt(rightGroups[2], 957, 17, sansB2),
  txt(rightGroups[3], 1080, 17, serifB), txt(rightGroups[4], 1180, 17, serifB),
  {type: 'text', z: 10, silent: true, x: 45, y: 479, rotation: Math.PI / 2,
   style: {text: 'Giá trị tính toán / giá trị thực nghiệm', font: '19px "Liberation Serif"', fill: '#333',
     align: 'center', verticalAlign: 'middle'}},
  {type: 'rect', z: 1, silent: true, shape: {x: 7, y: 914, width: 607, height: 145}, style: {fill: 'none', stroke: '#000', lineWidth: 1.5}},
  {type: 'rect', z: 1, silent: true, shape: {x: 657, y: 916, width: 575, height: 142}, style: {fill: 'none', stroke: '#000', lineWidth: 1.5}}
];

const chart = echarts.init(document.getElementById('c'), null, {renderer: 'canvas'});
chart.setOption({animation: false, backgroundColor: '#fff', grid, xAxis, yAxis, series, legend, graphic});
</script>
</body></html>
